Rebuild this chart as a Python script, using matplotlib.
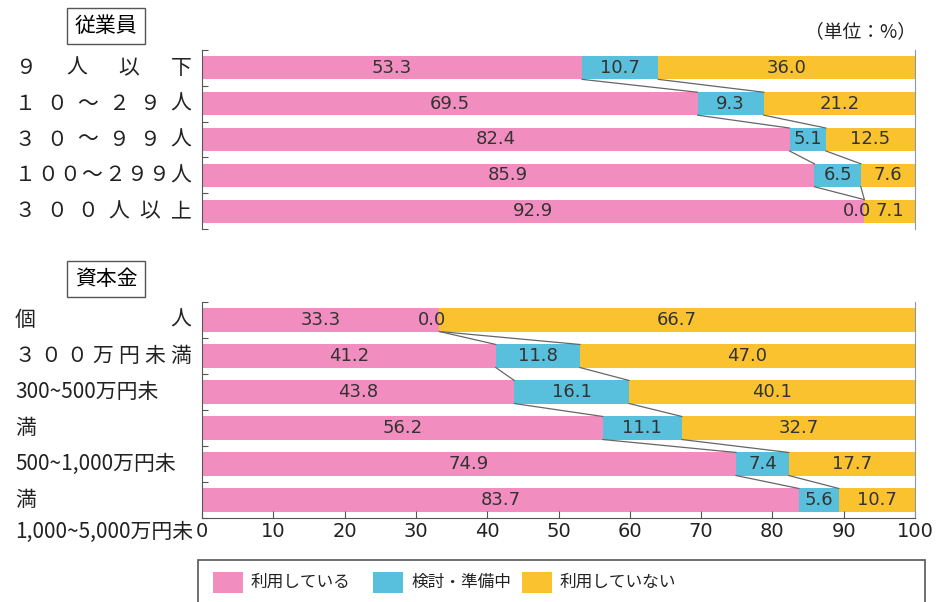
import matplotlib
matplotlib.use('Agg')
import matplotlib.pyplot as plt
import matplotlib.patches as patches
from matplotlib.transforms import blended_transform_factory

plt.rcParams['font.family'] = ['Noto Sans CJK JP', 'DejaVu Sans']

# data
emp_labels = ['９人以下', '１０～２９人', '３０～９９人', '１００～２９９人', '３００人以上']
emp_use = [53.3, 69.5, 82.4, 85.9, 92.9]
emp_plan = [10.7, 9.3, 5.1, 6.5, 0.0]
emp_no = [36.0, 21.2, 12.5, 7.6, 7.1]

cap_labels = ['個人', '３００万円未満', '300~500万円未', '満', '500~1,000万円未', '満', '1,000~5,000万円未']
cap_label_pos = [0, 1, 2, 3, 4, 5, 5.9]
cap_label_spread = [True, True, False, False, False, False, False]
cap_use = [33.3, 41.2, 43.8, 56.2, 74.9, 83.7]
cap_plan = [0.0, 11.8, 16.1, 11.1, 7.4, 5.6]
cap_no = [66.7, 47.0, 40.1, 32.7, 17.7, 10.7]

series_names = ['利用している', '検討・準備中', '利用していない']
colors = ['#F28DBF', '#58C0DD', '#F9C22E']

W, H = 942, 602
fig = plt.figure(figsize=(W / 100, H / 100), dpi=100)


def px_axes(x0, y_top, x1, y_bot):
    return fig.add_axes([x0 / W, 1 - y_bot / H, (x1 - x0) / W, (y_bot - y_top) / H])


def draw_group(ax, use, plan, no):
    n = len(use)
    h = 0.64
    ys = list(range(n))
    left = [0] * n
    for vals, c in zip([use, plan, no], colors):
        ax.barh(ys, vals, left=left, height=h, color=c, edgecolor='none')
        for y, v, l in zip(ys, vals, left):
            x = l - 1.0 if v == 0 else l + v / 2
            ax.text(x, y, f'{v:.1f}', ha='center', va='center',
                    fontsize=13, color='#333333', family='DejaVu Sans')
        left = [a + b for a, b in zip(left, vals)]
    # connector lines between bars
    b1 = use
    b2 = [a + b for a, b in zip(use, plan)]
    for i in range(n - 1):
        for b in (b1, b2):
            ax.plot([b[i], b[i + 1]], [i + h / 2, i + 1 - h / 2],
                    color='#666666', lw=0.9)
    ax.set_xlim(0, 100)
    ax.set_ylim(n - 0.5, -0.5)
    ax.set_yticks([i - 0.5 for i in range(n + 1)])
    ax.set_yticklabels([])
    ax.tick_params(axis='y', direction='in', length=4, color='#555555')
    ax.spines['top'].set_visible(False)
    ax.spines['left'].set_color('#555555')
    ax.spines['right'].set_color('#8899aa')
    ax.spines['right'].set_linewidth(0.8)


def draw_labels(ax, labels, pos, spread):
    tr = blended_transform_factory(fig.transFigure, ax.transData)
    x0, x1 = 15, 191
    cw = 20
    for lab, y, sp in zip(labels, pos, spread):
        if sp:
            n = len(lab)
            for k, ch in enumerate(lab):
                cx = x0 + cw / 2 + k * (x1 - x0 - cw) / (n - 1)
                ax.text(cx / W, y, ch, transform=tr, ha='center', va='center',
                        fontsize=15, color='#222222', clip_on=False)
        else:
            ax.text(x0 / W, y, lab, transform=tr, ha='left', va='center',
                    fontsize=15, color='#222222', clip_on=False)


# top group: employees
ax1 = px_axes(202, 50, 915, 229)
draw_group(ax1, emp_use, emp_plan, emp_no)
ax1.spines['bottom'].set_visible(False)
ax1.set_xticks([])
draw_labels(ax1, emp_labels, list(range(len(emp_labels))), [True] * len(emp_labels))

# bottom group: capital
ax2 = px_axes(202, 302, 915, 518)
draw_group(ax2, cap_use, cap_plan, cap_no)
ax2.set_xticks(range(0, 101, 10))
ax2.tick_params(axis='x', direction='in', length=5, labelsize=14, pad=3,
                color='#555555', labelcolor='#222222')
for lbl in ax2.get_xticklabels():
    lbl.set_family('DejaVu Sans')
ax2.spines['bottom'].set_color('#555555')
draw_labels(ax2, cap_labels, cap_label_pos, cap_label_spread)

# group headers
box = dict(boxstyle='square,pad=0.35', facecolor='white', edgecolor='#555555', lw=1)
fig.text(106 / W, 1 - 26 / H, '従業員', ha='center', va='center', fontsize=15, bbox=box)
fig.text(106 / W, 1 - 279 / H, '資本金', ha='center', va='center', fontsize=15, bbox=box)
fig.text(916 / W, 1 - 32 / H, '（単位：%）', ha='right', va='center', fontsize=13.5,
         color='#222222')

# legend box
fig.patches.append(patches.Rectangle((198 / W, 1 - 612 / H), 727 / W, 52 / H,
                                     transform=fig.transFigure, facecolor='white',
                                     edgecolor='#555555', lw=1.2))
leg_x = [213, 373, 522]
for x, c, name in zip(leg_x, colors, series_names):
    fig.patches.append(patches.Rectangle((x / W, 1 - 593 / H), 30 / W, 21 / H,
                                         transform=fig.transFigure, facecolor=c,
                                         edgecolor='none'))
    fig.text((x + 38) / W, 1 - 582 / H, name, ha='left', va='center', fontsize=12,
             color='#222222')

fig.savefig('out.png', dpi=100)
